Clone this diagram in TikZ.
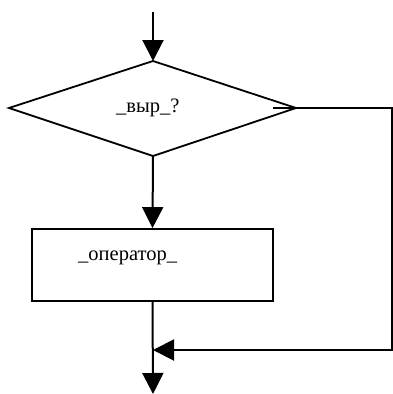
\documentclass[tikz,border=0pt]{standalone}
\usepackage{fontspec}
\setmainfont{Liberation Serif}
\usetikzlibrary{arrows.meta}
\begin{document}
\begin{tikzpicture}[x=1pt,y=-1pt,
  flow/.style={line width=2pt,-{Triangle[length=21pt,width=21pt]}},
  outline/.style={line width=1.8pt},
  lbl/.style={font=\fontsize{20.5}{24}\selectfont, inner sep=0pt, anchor=base west}]
\useasboundingbox (0,0) rectangle (393,394);
% decision diamond corners and loop route
\coordinate (start) at (153,12);
\coordinate (dtop) at (153,61);
\coordinate (dleft) at (9,108);
\coordinate (dright) at (296,108);
\coordinate (dbot) at (153,156);
\coordinate (exit) at (273,108);
\coordinate (corner1) at (392,108);
\coordinate (corner2) at (392,350);
\coordinate (join) at (153,350);
\coordinate (end) at (153,394);
% shapes
\draw[outline, line join=miter] (dtop) -- (dright) -- (dbot) -- (dleft) -- cycle;
\node[draw, outline, minimum width=241pt, minimum height=72pt, inner sep=0pt] (body) at (152.5,265) {};
% labels
\node[lbl] (cond) at (116,112) {\_выр\_?};
\node[lbl] (stmt) at (78,260) {\_оператор\_};
% connectors
\draw[flow] (start) -- (dtop);
\draw[flow] (dbot) -- (body.north);
\draw[flow] (body.south) -- (end);
\draw[flow] (exit) -- (corner1) -- (corner2) -- (join);
\end{tikzpicture}
\end{document}
